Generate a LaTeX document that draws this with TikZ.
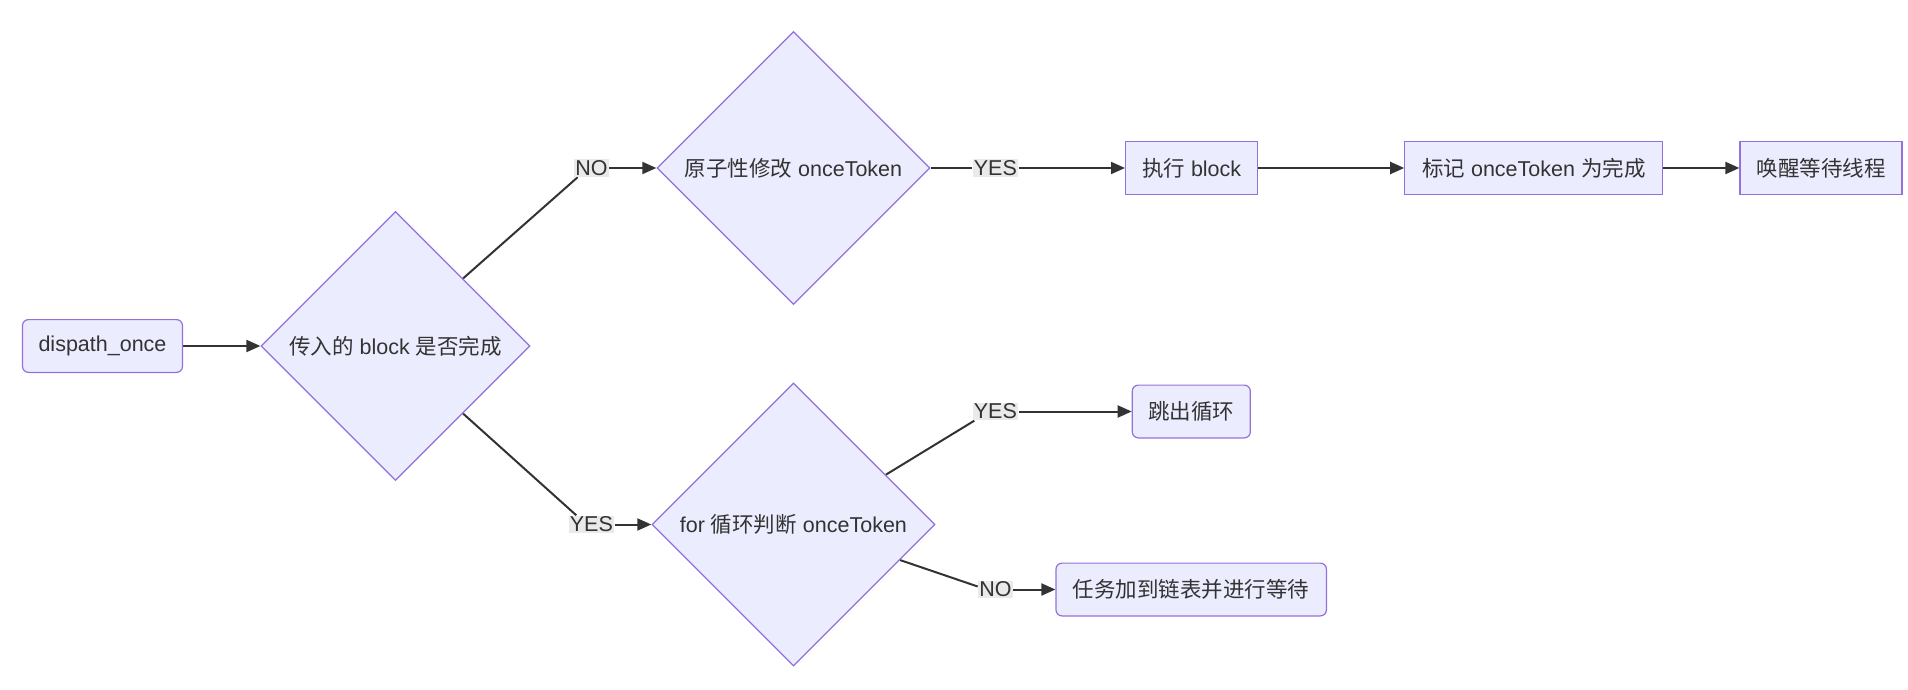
\documentclass[tikz,border=0pt]{standalone}
\usepackage{fontspec}
\setmainfont{Liberation Sans}
\newfontfamily\cjkfont{Noto Sans CJK SC}
\newcommand\zh[1]{{\cjkfont #1}}
\usetikzlibrary{shapes.geometric,arrows.meta,calc}
\pgfdeclarelayer{background}
\pgfsetlayers{background,main}
\definecolor{nodefill}{HTML}{ECECFF}
\definecolor{nodeline}{HTML}{9370DB}
\definecolor{edgeline}{HTML}{333333}
\definecolor{labelbg}{HTML}{E8E8E8}
\definecolor{txt}{HTML}{333333}
\begin{document}
\begin{tikzpicture}[x=0.5pt,y=-0.5pt,
  every node/.style={font=\fontsize{10.75pt}{13pt}\selectfont, text=txt},
  base/.style={draw=nodeline, fill=nodefill, line width=0.6pt, inner sep=0pt, minimum height=26.4pt},
  roundbox/.style={base, rounded corners=3pt},
  sqbox/.style={base},
  decision/.style={draw=nodeline, fill=nodefill, line width=0.6pt, diamond, inner sep=0pt},
  edge/.style={draw=edgeline, line width=1pt, -{Triangle[length=7pt,width=6pt]}},
  plain/.style={draw=edgeline, line width=1pt},
  elabel/.style={fill=labelbg, fill opacity=0.9, text opacity=1, inner sep=0.6pt}
]
\useasboundingbox (0,0) rectangle (1908,690);

% nodes
\node[roundbox, minimum width=80pt] (start) at (102.5,346) {dispath\_once};
\node[decision, minimum width=134.5pt, minimum height=134.5pt] (d1) at (395.5,346) {\zh{传入的} block \zh{是否完成}};
\node[decision, minimum width=136.5pt, minimum height=136.5pt] (d2) at (793.4,168) {\zh{原子性修改} onceToken};
\node[decision, minimum width=141.5pt, minimum height=141.5pt] (d3) at (793.4,524.5) {for \zh{循环判断} onceToken};
\node[sqbox, minimum width=66pt] (exec) at (1191.6,168) {\zh{执行} block};
\node[sqbox, minimum width=129pt] (mark) at (1533.8,168) {\zh{标记} onceToken \zh{为完成}};
\node[sqbox, minimum width=81pt] (wake) at (1821,168) {\zh{唤醒等待线程}};
\node[roundbox, minimum width=59pt] (jump) at (1191.3,411.5) {\zh{跳出循环}};
\node[roundbox, minimum width=135.2pt] (task) at (1191.2,589.5) {\zh{任务加到链表并进行等待}};

% edge labels
\node[elabel] (t1) at (591.4,168) {NO};
\node[elabel] (t2) at (591.4,524.5) {YES};
\node[elabel] (t3) at (995.4,168) {YES};
\node[elabel] (t4) at (995.4,411.5) {YES};
\node[elabel] (t5) at (995.4,589.5) {NO};

% edges
\begin{pgfonlayer}{background}
\draw[edge] (start.east) -- (d1.west);
\draw[plain] (d1.north east) -- ([xshift=2pt]t1.south west);
\draw[edge] (t1.east) -- (d2.west);
\draw[plain] (d1.south east) -- ([xshift=4pt]t2.north west);
\draw[edge] (t2.east) -- (d3.west);
\draw[plain] (d2.east) -- (t3.west);
\draw[edge] (t3.east) -- (exec.west);
\draw[edge] (exec.east) -- (mark.west);
\draw[edge] (mark.east) -- (wake.west);
\draw[plain] ($(d3.east)!0.7!(d3.north east)$) -- ([xshift=1pt]t4.south west);
\draw[edge] (t4.east) -- (jump.west);
\draw[plain] ($(d3.east)!0.5!(d3.south east)$) -- ([yshift=1.5pt]t5.west);
\draw[edge] (t5.east) -- (task.west);
\end{pgfonlayer}
\end{tikzpicture}
\end{document}
